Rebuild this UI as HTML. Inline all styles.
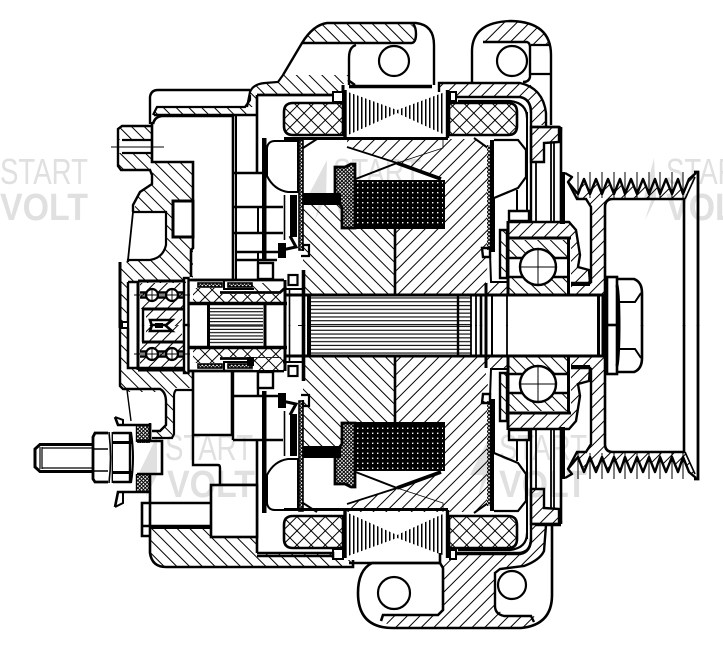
<!DOCTYPE html>
<html><head><meta charset="utf-8"><style>
html,body{margin:0;padding:0;background:#fff}
svg{display:block}
.a{fill:var(--a)}.b{fill:var(--b)}
.wm{font-family:"Liberation Sans",sans-serif;font-size:36px;fill:#e0e0e0;stroke:none}
.wb{font-family:"Liberation Sans",sans-serif;font-size:38px;font-weight:700;fill:#e0e0e0;stroke:none}
</style></head><body>
<svg width="723" height="656" viewBox="0 0 723 656" xmlns="http://www.w3.org/2000/svg">
<defs>
<pattern id="ha" width="9" height="9" patternUnits="userSpaceOnUse" patternTransform="rotate(-45)"><rect x="3" width="1" height="9" fill="#000"/></pattern>
<pattern id="hb" width="9" height="9" patternUnits="userSpaceOnUse" patternTransform="rotate(45)"><rect x="3" width="1" height="9" fill="#000"/></pattern>
<pattern id="cross" width="10" height="10" patternUnits="userSpaceOnUse" patternTransform="rotate(45)"><rect x="4.5" width="1" height="10" fill="#000"/><rect y="4.5" width="10" height="1" fill="#000"/></pattern>
<pattern id="fine" width="2.6" height="2.6" patternUnits="userSpaceOnUse" patternTransform="rotate(45)"><rect width="2.6" height="2.6" fill="#fff"/><rect width="1" height="2.6" fill="#000"/><rect width="2.6" height="1" fill="#000"/></pattern>
<pattern id="dots" width="5" height="5" patternUnits="userSpaceOnUse"><rect width="5" height="5" fill="#000"/><rect x="2" y="2" width="1.4" height="1.4" fill="#fff"/></pattern>
<pattern id="hl" width="10" height="3.3" patternUnits="userSpaceOnUse"><rect y="1" width="10" height="1.1" fill="#000"/></pattern>
<pattern id="hs" width="10" height="3.8" patternUnits="userSpaceOnUse"><rect y="1" width="10" height="1.1" fill="#000"/></pattern>
<pattern id="vl" x="349" width="4" height="10" patternUnits="userSpaceOnUse"><rect width="1.5" height="10" fill="#000"/></pattern>

<g id="stator" fill="none" stroke="#000">
<polygon points="348,92 397,110 445,92 445,135 397,113 348,135" fill="url(#vl)" stroke="none"/>
<path d="M284,138.5H448" stroke-width="3"/>
<path d="M345,90V138" stroke-width="3.4"/>
<path d="M447.5,90V138" stroke-width="3.4"/>
</g>

<g id="balls" fill="none" stroke="#000">
<path d="M140,292.5H185M140,297.5H185" stroke-width="2.4"/>
<path d="M134,295H190" stroke-width=".9"/>
<circle cx="152" cy="295" r="6" fill="#fff" stroke-width="2.2"/>
<circle cx="172" cy="295" r="6" fill="#fff" stroke-width="2.2"/>
<path d="M152,289V301M172,289V301M146,295H178" stroke-width=".9"/>
</g>

<g id="half" fill="none" stroke="#000" stroke-width="2.6">
<!-- rotor claws -->
<path class="b" stroke="none" d="M347,139H474L488,148V250H481V256L490,260L486,272V294H395V228H444V180L397,163L347,146Z"/>
<path class="a" stroke="none" d="M303,205H343V228H395V294H303Z"/>
<path d="M347,147L397,163" stroke-width="1.8"/>
<path d="M397,163L441,179" stroke-width="3.6"/>
<path d="M353,180L397,163" stroke-width="2"/>
<path d="M397,163L443,148V139" stroke-width=".8"/>
<path d="M474,138L488,148" stroke-width="2"/>
<path d="M303,148L317,139" stroke-width="2"/>
<rect x="353" y="181" width="91" height="47" fill="url(#dots)" stroke="#000" stroke-width="2"/>
<path d="M335,167H345L351,164H355V228H342V207L335,198Z" fill="url(#fine)" stroke-width="2.8"/>
<rect x="303" y="193" width="38" height="12" fill="#000" stroke="none"/>
<path d="M395,228V294" stroke-width="2.6"/>
<!-- windings -->
<path d="M343,103H293Q284,103 284,112V126Q284,135 293,135H343Z" fill="url(#cross)" stroke-width="2.6"/>
<path d="M449,103H508Q517,103 517,112V126Q517,135 508,135H449Z" fill="url(#cross)" stroke-width="2.6"/>
<!-- left fan -->
<rect x="262" y="138" width="4.5" height="122" fill="#000" stroke="none"/>
<path d="M267,148Q268,141 275,141H298V192H288Q274,190 267,176Z" fill="#fff" stroke-width="2"/>
<rect x="299" y="140" width="4" height="110" fill="url(#fine)" stroke-width="1.6"/>
<rect x="290" y="195" width="7" height="42" fill="#000" stroke="none"/>
<path d="M290,236L296,247L282,250" stroke-width="3"/>
<rect x="278" y="243" width="8" height="15" fill="#000" stroke="none"/>
<path d="M303,251V245H309V256H301" stroke-width="2.2"/>
<path d="M284.5,195V240" stroke-width="1.6"/>
<!-- right fan -->
<rect x="490" y="140" width="5" height="112" fill="#000" stroke="none"/>
<rect x="487" y="145" width="3" height="105" fill="url(#fine)" stroke="none"/>
<path d="M494,140H518L526,150V177L518,188L494,198" fill="#fff" stroke-width="2.2"/>
<path d="M517,190V211" stroke-width="2"/>
<path d="M527,112V211" stroke-width="2"/>
<path d="M531,113V221" stroke-width="2.4"/>
<path d="M536,162V221M551,143V221M554,143V221" stroke-width="1.8"/>
<path d="M561,127V224" stroke-width="2.6"/>
<path d="M456,97H520Q531,99 531,113" stroke-width="2.6"/>
<path d="M458,101H510Q527,103 527,118" stroke-width="2.2"/>
<rect x="450" y="92" width="6" height="9" fill="#fff" stroke-width="2"/>
<rect x="333" y="92" width="10" height="10" fill="#fff" stroke-width="2"/>
<path d="M257,95H333" stroke-width="2.4"/>
<path d="M531,127H559V142L544,143V162H531Z" class="b" stroke-width="2.4"/>
<path d="M531,127H558Q561,127 561,130" stroke-width="2.6"/>
<path d="M509,211H529V221H509Z" fill="#fff" stroke-width="2.4"/>
<path d="M500,230H507V278H500Z" class="a" stroke-width="2.4"/>
<path d="M490,253L491,282H507" stroke-width="2"/>
<path d="M482,248H490V257H483Z" stroke-width="2.4"/>
<path d="M487,282H507V295H487Z" class="b" stroke="none"/>
<path d="M486,283V295" stroke-width="3"/>
<!-- front bearing -->
<path d="M509,222H570L576,230L580,255L578,267L589,270L590,283H571V238H509Z" class="b" stroke="none"/>
<path d="M509,222H569L576,230L580,255L578,267L589,270L590,283H571" stroke-width="2.4"/>
<path d="M509,240H568V258H509Z" class="a" stroke="none"/>
<path d="M509,277H568V295H509Z" class="a" stroke="none"/>
<path d="M508,221V295M568.5,238V295" stroke-width="3"/>
<path d="M509,238H571" stroke-width="3"/>
<path d="M509,258H525M552,258H568M509,277H525M552,277H568" stroke-width="2.4"/>
<circle cx="538" cy="267" r="18" fill="#fff" stroke-width="2.4"/>
<path d="M538,249V285M520,267H556" stroke-width="1"/>
<path d="M571,284H590" stroke-width="4"/>
<!-- pulley -->
<path class="b" stroke="none" d="M568,182L578,194L584,179L590,194L596,179L602,194L608,179L614,194L620,179L625,194L631,179L637,194L643,179L649,194L655,179L660,194L666,179L672,194L678,179L683,194L689,179L695,175L686,199H612L605,207V295H571V284H591V207L586,199H577Z"/>
<path d="M565,173L572,177L568,182L578,194L584,179L590,194L596,179L602,194L608,179L614,194L620,179L625,194L631,179L637,194L643,179L649,194L655,179L660,194L666,179L672,194L678,179L683,194L689,179L696,173" stroke-width="2.4" stroke-linejoin="round"/>
<path d="M578,172V198M590,172V198M602,172V198M614,172V198M625,172V198M637,172V198M649,172V198M660,172V198M672,172V198M683,172V198" stroke-width="1"/>
<path d="M568,182L577,199H586L591,207V283" stroke-width="2.4"/>
<path d="M605,326V207Q605,199 613,199H684V326" stroke-width="2.6"/>
<path d="M698,326V172H694" stroke-width="2.8"/>
<path d="M685,199L695,177" stroke-width="1.6"/>
<rect x="560" y="172" width="5" height="52" fill="#000" stroke="none"/>
<!-- nut -->
<rect x="607" y="277" width="10" height="49" fill="#fff" stroke-width="2.6"/>
<path d="M617,279H634Q642,282 642,293V326" stroke-width="2.6"/>
<path d="M617,285Q619,296 619,326" stroke-width="3"/>
<path d="M618,302H635L641,293" stroke-width="2"/>
<!-- shaft -->
<rect x="311" y="297" width="160" height="29" fill="url(#hs)" stroke="none"/>
<path d="M284,295H606" stroke-width="3"/>
<path d="M309,295V326" stroke-width="4"/>
<path d="M458,295V326" stroke-width="2.4"/>
<path d="M471,295V326M476,295V326" stroke-width="1.8"/>
<path d="M481,295V326" stroke-width="2.6"/>
<path d="M486,295V326" stroke-width="3"/>
<path d="M492,295V326" stroke-width="2"/>
<path d="M507,295V326" stroke-width="1.8"/>
<path d="M598.5,295V326M603,295V326" stroke-width="3"/>
<!-- slip rings -->
<rect x="210" y="306" width="53" height="20" fill="url(#hl)" stroke="none"/>
<path d="M186,303.5H287" stroke-width="3.4"/>
<path d="M208.5,303V326M265,303V326" stroke-width="3"/>
<path d="M285,280V326" stroke-width="3"/>
<path d="M289.5,289V326" stroke-width="1.6"/>
<path d="M303.5,270V326" stroke-width="3.6"/>
<path d="M298,325.5H303" stroke-width="1"/>
<path d="M286,289H302" stroke-width="2"/>
<rect x="288.5" y="275" width="9" height="10" fill="#fff" stroke-width="2.2"/>
<!-- collar -->
<path d="M193,288H219L222,294H282L284,300V302H193Z" fill="url(#cross)" stroke="none"/>
<path d="M253,283H272L283,293H222L250,291Z" class="a" stroke="none"/>
<path d="M189,280H284" stroke-width="2.8"/>
<path d="M220,292.5H280L286,287" stroke-width="2.8"/>
<rect x="198" y="283" width="24" height="4" fill="url(#fine)" stroke="#000" stroke-width="1.6"/>
<rect x="228" y="283" width="24" height="4" fill="url(#fine)" stroke="#000" stroke-width="1.6"/>
<path d="M224,281V289H254" stroke-width="2"/>
<!-- rear bearing -->
<path d="M140,283H183V309H140Z" class="b" stroke="none"/>
<path d="M138,281H185M142,309H185" stroke-width="3"/>
<path d="M138,281V326" stroke-width="3"/>
<rect x="146" y="310" width="36" height="16" class="b" stroke="none"/>
<path d="M143,309V326" stroke-width="2.4"/>
<path d="M150,320H172L165,326H152Z" fill="#fff" stroke-width="2.6"/>
<rect x="155" y="323" width="8" height="3" fill="#000" stroke="none"/>
<rect x="184" y="278" width="4.5" height="48" fill="#fff" stroke-width="2.4"/>
</g>
</defs>

<rect width="723" height="656" fill="#fff"/>

<use href="#half" style="--a:url(#ha);--b:url(#hb)"/>
<use href="#half" transform="matrix(1 0 0 -1 0 651)" style="--a:url(#hb);--b:url(#ha)"/>
<use href="#stator"/>
<use href="#stator" transform="matrix(1 0 0 -1 0 648)"/>
<use href="#balls"/>
<use href="#balls" transform="matrix(1 0 0 -1 0 649)"/>

<g fill="none" stroke="#000" stroke-width="2.6">
<!-- lower collar crosshatch -->
<rect x="253" y="358" width="30" height="12" fill="#fff" stroke="none"/>
<rect x="253" y="358" width="30" height="12" fill="url(#cross)" stroke="none"/>
<rect x="247" y="357" width="7" height="9" fill="#000" stroke="none"/>
<!-- upper body -->
<path d="M283,75L302,43H413Q417,43 416,35Q416,28 410,23H327Q315,25 302,43Z" fill="url(#ha)" stroke="none"/>
<path d="M283,75L302,43Q313,25 327,23H416Q434,25 434,45V85" stroke-width="2.4"/>
<path d="M302,43H412Q416,42 416,34Q416,27 413,24" stroke-width="2.4"/>
<path d="M349,85V58Q349,47 356,45" stroke-width="2.4"/>
<circle cx="394" cy="61" r="15" stroke-width="2.2"/>
<path d="M349,86.5H432" stroke-width="3.6"/>
<path d="M348,80L355,85" stroke-width="2.4"/>
<path d="M343,85V92" stroke-width="3"/>
<path d="M250,95L250,90L257,84L278,82L283,75H349V84H343V92H333V95H257V107H248Z" fill="url(#ha)" stroke="none"/>
<path d="M247,107L250,92Q253,84 265,83L278,82L283,75" stroke-width="2.2"/>
<path d="M257,95H333" stroke-width="2.6"/>
<path d="M150,124V97Q151,90 158,90H250" stroke-width="2.4"/>
<path d="M153,115L157,107H245L250,100V95" stroke-width="2.2"/>
<path d="M157,107H247L256,115H153Z" fill="url(#ha)" stroke="none"/>
<path d="M154,115H256" stroke-width="2.6"/>
<path d="M257,95V172" stroke-width="2.6"/>
<!-- rear cover upper -->
<path d="M153,162H193V280H186V283H138V283H128V328H120V262L150,260L160,255L166,245V212H133L140,192L152,183Z" fill="url(#ha)" stroke="none"/>
<path d="M151,126H122L118,129V166L121,170H150L152,175V184L140,192L133,205V212" stroke-width="2.4"/>
<path d="M152,127H122L119,130V140H152ZM119,153H152V169H122L119,166Z" fill="url(#ha)" stroke="none"/>
<path d="M122,140H152M122,153H152" stroke-width="2.2"/>
<path d="M111,147H164" stroke-width="1"/>
<path d="M152,122V162H193V248L191,250V277" stroke-width="2.6"/>
<path d="M153,124Q155,116 163,116H233V280H193" stroke-width="2.6"/>
<path d="M133,212H166V245Q163,258 150,260H128L128,262" stroke-width="2.2"/>
<path d="M133,212L128,260" stroke-width="1.8"/>
<rect x="173" y="201" width="20" height="36" fill="#fff" stroke-width="3"/>
<path d="M120,328V262" stroke-width="3"/>
<path d="M128,282V328M128,282H138" stroke-width="2.4"/>
<rect x="122" y="322" width="6" height="6" fill="#fff" stroke-width="2"/>
<!-- upper inner boxes -->
<path d="M233,173H262M233,207H283M233,233H283M236,252H283M236,260H277" stroke-width="2.4"/>
<path d="M236,116V280" stroke-width="2"/>
<path d="M258,207V233M258,252V263" stroke-width="2"/>
<rect x="258" y="263" width="15" height="16" fill="#fff" stroke-width="2.4"/>
<!-- top right body -->
<path d="M439,83H527Q543,90 546,113V125H531V113Q528,97 518,96H456V92H440Z" fill="url(#hb)" stroke="none"/>
<path d="M439,92V83H520Q543,88 546,113V126" stroke-width="2.4"/>
<path d="M472,82V50Q473,22 511,21Q551,22 551,55V125" stroke-width="2.4"/>
<path d="M483,42Q490,21 511,21Q540,22 550,44H531V43H487Z" fill="url(#hb)" stroke="none"/>
<path d="M483,42H527Q530,43 530,47V77Q529,82 523,82" stroke-width="2.4"/>
<path d="M531,45H551M531,74H551" stroke-width="2.2"/>
<circle cx="512" cy="61" r="15" stroke-width="2.2"/>

<!-- rear cover lower -->
<path d="M120,328H128V368H185L192,372V388H175L172,438H152V430H160L166,425V400L160,392H125L120,388Z" fill="url(#ha)" stroke="none"/>
<path d="M120,328V386L123,389H160Q166,392 166,402V425L160,431H152" stroke-width="2.4"/>
<path d="M128,328V368H185" stroke-width="2.6"/>
<rect x="122" y="322" width="6" height="6" stroke="none"/>
<path d="M127,390L131,421" stroke-width="1.4"/>
<path d="M192,390H176Q174,392 174,396V434L172,438H152" stroke-width="2.2"/>
<path d="M193,371V435H232V371" stroke-width="2.6"/>
<path d="M193,435V465H218Q220,465 220,468V485H257" stroke-width="2.4"/>
<path d="M233,396H283M233,440H283M258,371V396M233,371V440" stroke-width="2.4"/>
<path d="M257,440V553" stroke-width="2.6"/>
<rect x="258" y="372" width="15" height="16" fill="#fff" stroke-width="2.4"/>
<rect x="211" y="485" width="46" height="52" fill="#fff" stroke-width="2.6"/>
<path d="M211,503H142V526H211M142,526V536H150" stroke-width="2.6"/>
<path d="M150,503V553Q152,567 166,567H353V560" stroke-width="2.6"/>
<path d="M150,528H211V538H257V553H333V558H345V560H353V567H166Q152,565 150,553Z" fill="url(#ha)" stroke="none"/>
<path d="M257,553H333V558" stroke-width="2.6"/>
<path d="M150,528H211" stroke-width="2"/>

<!-- terminal -->
<path d="M93,444.5H40L35,449V467L40,471.5H93" stroke-width="3"/>
<path d="M40,447V469M42,447V469M42,448H92M42,468H92" stroke-width="1.2"/>
<path d="M108,433H95L93,437V479L95,482H108" stroke-width="2.8" fill="#fff"/>
<path d="M93,449H108M93,471H108" stroke-width="1.4"/>
<path d="M109,432Q112,458 109,483" stroke-width="1.6"/>
<path d="M113,432V483" stroke-width="2.8"/>
<path d="M113,433H130V482H113" stroke-width="2.4" fill="#fff"/>
<path d="M113,442.5H132M113,472.5H132" stroke-width="3"/>
<path d="M131,432Q135,458 131,483" stroke-width="2"/>
<path d="M137,425V442M137,474V492" stroke-width="2.4"/>
<rect x="137" y="424" width="13" height="19" fill="url(#fine)" stroke="none"/>
<rect x="137" y="474" width="13" height="19" fill="url(#fine)" stroke="none"/>
<path d="M115,417L118,425H150V441H162V474H137" stroke-width="2.6"/>
<path d="M137,441H150" stroke-width="3"/>
<path d="M115,507L118,492H150V474" stroke-width="2.6"/>
<path d="M115,417L123,420V425M115,507L123,503V492" stroke-width="2"/>
<path d="M150,441V423M150,503V493" stroke-width="2.6"/>

<!-- bottom lug -->
<path d="M439,563L443,568V610L438,615H383L381,620L393,628H521L537,623L534,616H504L495,606V571L499,569L524,566L544,551L546,525H531V540L528,548L520,553H455V560H440Z" fill="url(#hb)" stroke="none"/>
<path d="M440,553V563H372Q358,570 358,593Q358,628 393,628H521Q552,625 552,595V525" stroke-width="2.6"/>
<path d="M349,563H440L443,568V610L438,615H383L381,621" stroke-width="2.6"/>
<path d="M534,622L531,616H504Q495,614 495,606V573L500,569L524,566Q540,560 544,551L546,525" stroke-width="2.4"/>
<path d="M531,540Q530,553 518,553H456" stroke-width="2.4"/>
<path d="M535,525H561" stroke-width="2.4"/>
<circle cx="394" cy="593" r="16" stroke-width="2.2"/>
<circle cx="512" cy="585" r="14" stroke-width="2.2"/>
</g>

<!-- watermark -->
<g style="mix-blend-mode:multiply">
<text class="wm" x="0" y="184" textLength="88" lengthAdjust="spacingAndGlyphs">START</text>
<text class="wb" x="0" y="220" textLength="88" lengthAdjust="spacingAndGlyphs">VOLT</text>
<text class="wm" x="165" y="460" textLength="88" lengthAdjust="spacingAndGlyphs">START</text>
<text class="wb" x="167" y="497" textLength="88" lengthAdjust="spacingAndGlyphs">VOLT</text>
<text class="wm" x="333" y="184" textLength="88" lengthAdjust="spacingAndGlyphs">START</text>
<text class="wb" x="333" y="220" textLength="88" lengthAdjust="spacingAndGlyphs">VOLT</text>
<text class="wm" x="499" y="460" textLength="88" lengthAdjust="spacingAndGlyphs">START</text>
<text class="wb" x="499" y="497" textLength="88" lengthAdjust="spacingAndGlyphs">VOLT</text>
<text class="wm" x="666" y="184" textLength="88" lengthAdjust="spacingAndGlyphs">START</text>
<text class="wb" x="666" y="220" textLength="88" lengthAdjust="spacingAndGlyphs">VOLT</text>
<path d="M157,436L138,475H150L146,497L157,475Z" fill="#e0e0e0"/>
<path d="M327,160L307,198H320L315,220L326,198Z" fill="#e0e0e0"/>
<path d="M490,436L470,475H483L478,497L489,475Z" fill="#e0e0e0"/>
<path d="M654,158L644,198H652L645,220L656,198Z" fill="#e0e0e0"/>
</g>
</svg>
</body></html>
